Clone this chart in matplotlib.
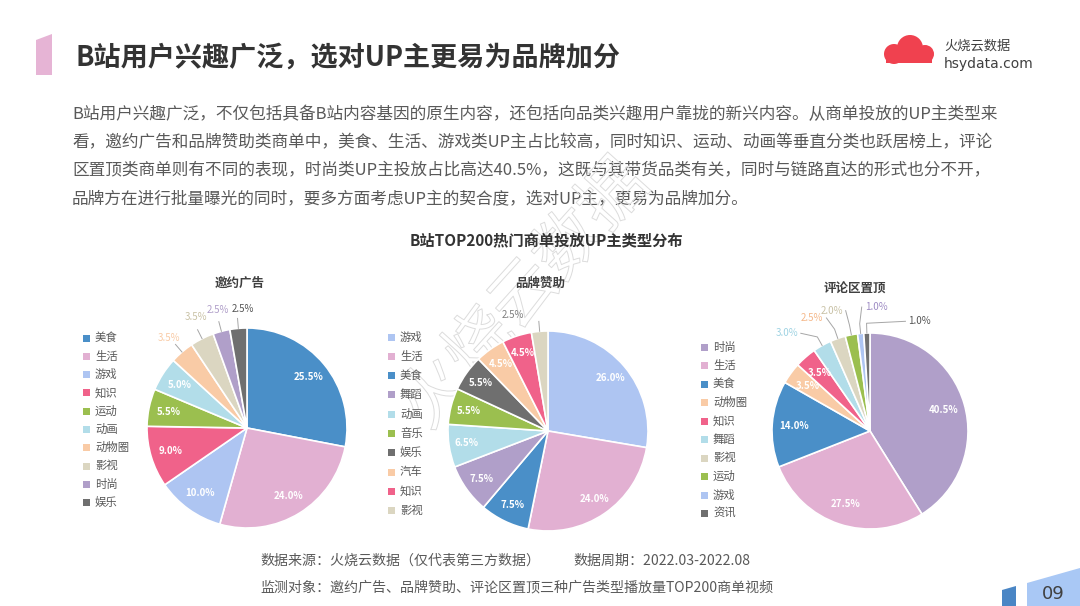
import numpy as np
import matplotlib
matplotlib.use("Agg")
import matplotlib.pyplot as plt
from matplotlib.patches import Polygon, Circle, Rectangle
import matplotlib.patheffects as pe

plt.rcParams['font.family'] = ['Noto Sans CJK SC', 'DejaVu Sans']

W, H = 1080, 606

# ---- data ----
invite_labels = ["美食", "生活", "游戏", "知识", "运动", "动画", "动物圈", "影视", "时尚", "娱乐"]
invite_values = [25.5, 24.0, 10.0, 9.0, 5.5, 5.0, 3.5, 3.5, 2.5, 2.5]

brand_labels = ["游戏", "生活", "美食", "舞蹈", "动画", "音乐", "娱乐", "汽车", "知识", "影视"]
brand_values = [26.0, 24.0, 7.5, 7.5, 6.5, 5.5, 5.5, 4.5, 4.5, 2.5]

top_labels = ["时尚", "生活", "美食", "动物圈", "知识", "舞蹈", "影视", "运动", "游戏", "资讯"]
top_values = [40.5, 27.5, 14.0, 3.5, 3.5, 3.0, 2.5, 2.0, 1.0, 1.0]

# colours per category
palette = {
    "美食": "#4a8fc8", "生活": "#e2b0d2", "游戏": "#aec5f2", "知识": "#f0628a",
    "运动": "#9bbf4f", "音乐": "#9bbf4f", "动画": "#b2dde9", "动物圈": "#f9cba6",
    "汽车": "#f9cba6", "影视": "#dbd6c1", "时尚": "#b09fc9", "娱乐": "#6f6f6f",
    "资讯": "#6f6f6f",
}
brand_palette = dict(palette, 舞蹈="#b09fc9")
top_palette = dict(palette, 舞蹈="#b2dde9")

paragraph = [
    "B站用户兴趣广泛，不仅包括具备B站内容基因的原生内容，还包括向品类兴趣用户靠拢的新兴内容。从商单投放的UP主类型来",
    "看，邀约广告和品牌赞助类商单中，美食、生活、游戏类UP主占比较高，同时知识、运动、动画等垂直分类也跃居榜上，评论",
    "区置顶类商单则有不同的表现，时尚类UP主投放占比高达40.5%，这既与其带货品类有关，同时与链路直达的形式也分不开，",
    "品牌方在进行批量曝光的同时，要多方面考虑UP主的契合度，选对UP主，更易为品牌加分。",
]


def fx(x):
    return x / W


def fy(y):
    return 1 - y / H


fig = plt.figure(figsize=(W / 100, H / 100), dpi=100)
fig.patch.set_facecolor("white")

# overlay axes in pixel coordinates for decorations and text
bg = fig.add_axes([0, 0, 1, 1])
bg.set_xlim(0, W)
bg.set_ylim(H, 0)
bg.axis("off")

# header bar
bg.add_patch(Polygon([(36, 40), (52, 34), (52, 75), (36, 75)], closed=True,
                     color="#e6b4d5", lw=0))
bg.text(75, 58, "B站用户兴趣广泛，选对UP主更易为品牌加分", fontsize=19.5,
        fontweight="bold", color="#333333", va="center", ha="left")

# logo
for cx, cy, r in [(894, 54, 10), (910, 48, 13), (925, 54, 9)]:
    bg.add_patch(Circle((cx, cy), r, color="#f0414f", lw=0))
bg.add_patch(Rectangle((886, 51), 46, 12, color="#f0414f", lw=0))
bg.text(944, 46, "火烧云数据", fontsize=9.5, color="#404040", va="center")
bg.text(944, 64, "hsydata.com", fontsize=10, color="#404040", va="center",
        family=["DejaVu Sans"])

# paragraph
for i, line in enumerate(paragraph):
    bg.text(72, 115 + i * 28, line, fontsize=12.0, color="#595959",
            va="center", ha="left")

# watermark
bg.text(525, 295, "火烧云数据", fontsize=48, rotation=48, color="none",
        ha="center", va="center",
        path_effects=[pe.withStroke(linewidth=0.7, foreground="#dcdcdc")])

# chart title
bg.text(546, 240, "B站TOP200热门商单投放UP主类型分布", fontsize=11,
        fontweight="bold", color="#333333", ha="center", va="center")

# footer
bg.text(260, 561, "数据来源：火烧云数据（仅代表第三方数据）", fontsize=10.1,
        color="#595959", va="center")
bg.text(573, 561, "数据周期：2022.03-2022.08", fontsize=10.1, color="#595959",
        va="center")
bg.text(260, 587, "监测对象：邀约广告、品牌赞助、评论区置顶三种广告类型播放量TOP200商单视频",
        fontsize=10.1, color="#595959", va="center")

# page number
bg.add_patch(Polygon([(1002, 590), (1016, 586), (1016, 606), (1002, 606)],
                     closed=True, color="#4a86c5", lw=0))
bg.add_patch(Polygon([(1027, 583), (1080, 568), (1080, 606), (1027, 606)],
                     closed=True, color="#a9c8f5", lw=0))
bg.text(1053, 594, "09", fontsize=13, color="#404040", ha="center", va="center",
        family=["DejaVu Sans"])


def draw_pie(cx, cy, r, labels, values, colors, title, title_xy, threshold,
             out_tweaks, inner_r, legend_xy, legend_step, label_colors):
    ax = fig.add_axes([fx(cx - r), fy(cy + r), 2 * r / W, 2 * r / H])
    wedges, _ = ax.pie(values, colors=[colors[l] for l in labels],
                       startangle=90, counterclock=False, radius=1.0,
                       wedgeprops=dict(edgecolor="white", linewidth=1.2))
    ax.set_xlim(-1, 1)
    ax.set_ylim(-1, 1)
    ax.set_aspect("equal")
    ax.axis("off")

    k = 0
    for w, v, lab in zip(wedges, values, labels):
        mid = np.deg2rad((w.theta1 + w.theta2) / 2)
        txt = f"{v:.1f}%"
        if v >= threshold:
            ax.text(inner_r * np.cos(mid), inner_r * np.sin(mid), txt,
                    color="white", fontsize=7, fontweight="bold",
                    ha="center", va="center")
        else:
            dx, dy, ha = out_tweaks[k]
            k += 1
            x0, y0 = np.cos(mid), np.sin(mid)
            x1, y1 = 1.1 * x0, 1.1 * y0
            tx, ty = 1.2 * x0 + dx, 1.2 * y0 + dy
            if ha == "center":
                ax.plot([x0, x1], [y0, y1], color="#a6a6a6", lw=0.7,
                        clip_on=False)
                ax.text(tx, ty + 0.04, txt, color=label_colors.get(lab, colors[lab]),
                        fontsize=7, ha="center", va="center")
            else:
                ax.plot([x0, x1, tx], [y0, y1, ty], color="#a6a6a6", lw=0.7,
                        clip_on=False)
                pad = -0.03 if ha == "right" else 0.03
                ax.text(tx + pad, ty, txt, color=label_colors.get(lab, colors[lab]),
                        fontsize=7, ha=ha, va="center")

    bg.text(title_xy[0], title_xy[1], title, fontsize=9, fontweight="bold",
            color="#404040", ha="center", va="center")

    lx, ly = legend_xy
    for i, lab in enumerate(labels):
        y = ly + i * legend_step
        bg.add_patch(Rectangle((lx - 3.5, y - 3.5), 7, 7, color=colors[lab], lw=0))
        bg.text(lx + 9, y, lab, fontsize=8.2, color="#595959", va="center")


draw_pie(247, 428, 100, invite_labels, invite_values, palette, "邀约广告",
         (240, 283), 4.0,
         [(0.0, -0.05, "center"), (0.03, 0.0, "center"), (0.02, -0.02, "center"),
          (0.06, -0.05, "center")],
         0.8, (86, 338), 18.3, {"影视": "#c9c2a6", "娱乐": "#555555"})

draw_pie(548, 431, 100, brand_labels, brand_values, brand_palette, "品牌赞助",
         (540, 283), 3.0,
         [(-0.25, -0.08, "center")],
         0.82, (391, 337), 19.3, {"影视": "#7f7f7f"})

draw_pie(870, 431, 98, top_labels, top_values, top_palette, "评论区置顶",
         (855, 289), 3.25,
         [(-0.12, -0.05, "right"), (-0.05, 0.02, "right"), (-0.02, 0.05, "right"),
          (0.03, 0.07, "left"), (0.4, -0.08, "left")],
         0.78, (704, 347), 18.5,
         {"舞蹈": "#9fd3e3", "影视": "#f5b88a", "运动": "#c9c2a6",
          "游戏": "#9e8cc4", "资讯": "#555555"})

fig.savefig("out.png", dpi=100, facecolor="white")
